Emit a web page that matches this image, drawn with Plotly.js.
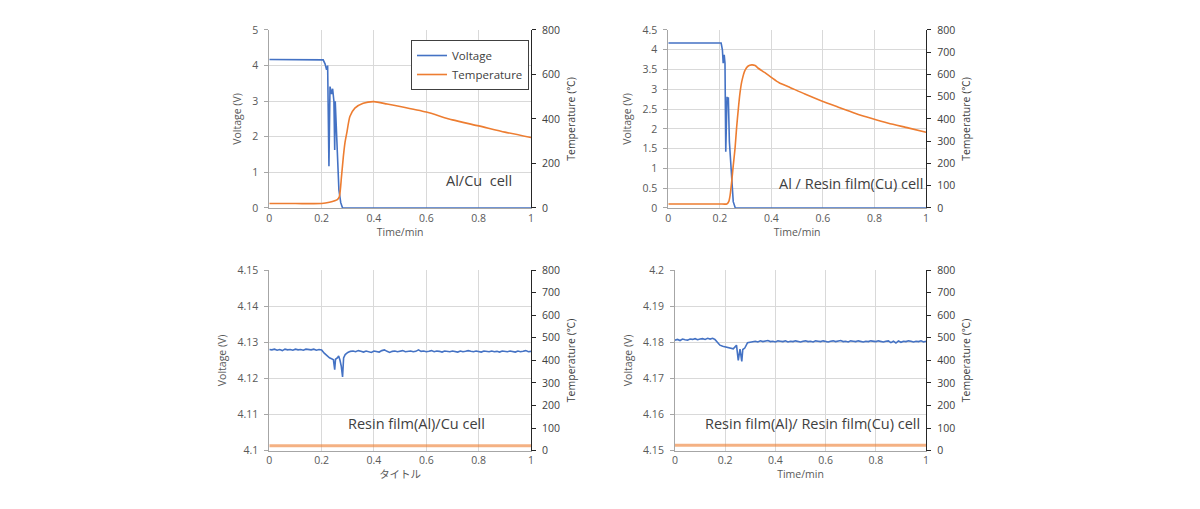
<!DOCTYPE html>
<html>
<head>
<meta charset="utf-8">
<script src="https://cdn.plot.ly/plotly-3.0.1.min.js"></script>
<style>
  body { margin: 0; background: #fff; }
  #chart { width: 1200px; height: 509px; }
</style>
</head>
<body>
<div id="chart"></div>
<script>
// ---- top left: Al/Cu cell
var tAlCuV = [0, 0.1, 0.2, 0.206, 0.213, 0.219, 0.223, 0.228, 0.232, 0.238, 0.242, 0.247, 0.25, 0.252, 0.256, 0.258, 0.261, 0.266, 0.273, 0.28, 0.3, 0.5, 1];
var vAlCu  = [4.17, 4.17, 4.17, 4.16, 4.05, 3.88, 4.0, 1.17, 3.41, 3.2, 3.35, 3.0, 1.63, 3.0, 2.29, 1.8, 1.27, 0.51, 0.15, 0, 0, 0, 0];
var tAlCuT = [0, 0.1, 0.2, 0.23, 0.26, 0.268, 0.276, 0.283, 0.289, 0.296, 0.308, 0.327, 0.359, 0.4, 0.45, 0.5, 0.6, 0.7, 0.8, 0.9, 1.0];
var tempAlCu = [20, 20, 20, 26, 38, 52, 142, 231, 292, 336, 411, 449, 471, 478, 467, 456, 431, 396, 369, 341, 317];

// ---- top right: Al / Resin film(Cu) cell
var tAlResV = [0, 0.1, 0.2, 0.205, 0.21, 0.213, 0.217, 0.22, 0.223, 0.226, 0.228, 0.23, 0.233, 0.237, 0.24, 0.246, 0.252, 0.26, 0.3, 1];
var vAlRes  = [4.17, 4.17, 4.17, 4.17, 4.0, 3.66, 3.87, 3.66, 1.42, 2.5, 2.81, 2.65, 2.8, 1.68, 1.36, 0.67, 0.16, 0, 0, 0];
var tAlResT = [0, 0.1, 0.2, 0.227, 0.235, 0.24, 0.246, 0.252, 0.259, 0.265, 0.272, 0.278, 0.285, 0.298, 0.31, 0.324, 0.337, 0.349, 0.375, 0.401, 0.43, 0.466, 0.53, 0.595, 0.66, 0.724, 0.79, 0.854, 0.93, 1.0];
var tempAlRes = [18, 18, 18, 18, 30, 58, 118, 190, 268, 360, 448, 515, 568, 620, 638, 643, 640, 628, 608, 586, 563, 545, 512, 481, 453, 426, 402, 381, 360, 340];

// ---- bottom left: Resin film(Al)/Cu cell
var tResCuV = [
  0, 0.01, 0.02, 0.03, 0.04, 0.05, 0.06, 0.07, 0.08, 0.09,
  0.10, 0.11, 0.12, 0.13, 0.14, 0.15, 0.16, 0.17, 0.18, 0.19,
  0.20, 0.21, 0.22, 0.23, 0.24, 0.245, 0.25, 0.253, 0.26, 0.265,
  0.27, 0.275, 0.28, 0.284, 0.29, 0.30, 0.31, 0.32, 0.33, 0.34,
  0.35, 0.36, 0.37, 0.38, 0.39, 0.40, 0.41, 0.42, 0.43, 0.44,
  0.45, 0.46, 0.47, 0.48, 0.49, 0.50, 0.51, 0.52, 0.53, 0.54,
  0.55, 0.56, 0.57, 0.58, 0.59, 0.60, 0.61, 0.62, 0.63, 0.64,
  0.65, 0.66, 0.67, 0.68, 0.69, 0.70, 0.71, 0.72, 0.73, 0.74,
  0.75, 0.76, 0.77, 0.78, 0.79, 0.80, 0.81, 0.82, 0.83, 0.84,
  0.85, 0.86, 0.87, 0.88, 0.89, 0.90, 0.91, 0.92, 0.93, 0.94,
  0.95, 0.96, 0.97, 0.98, 0.99, 1.00
];
var vResCu = [
  4.1280, 4.1279, 4.1281, 4.1278, 4.1280, 4.1277, 4.1281, 4.1279, 4.1280, 4.1278,
  4.1281, 4.1279, 4.1280, 4.1278, 4.1281, 4.1280, 4.1279, 4.1281, 4.1278, 4.1280,
  4.1279, 4.1270, 4.1264, 4.1257, 4.1254, 4.1252, 4.1224, 4.1253, 4.1257, 4.1262,
  4.1251, 4.1234, 4.1204, 4.1257, 4.1266, 4.1272, 4.1275, 4.1276, 4.1274, 4.1277,
  4.1275, 4.1273, 4.1276, 4.1275, 4.1272, 4.1276, 4.1274, 4.1273, 4.1277, 4.1279,
  4.1275, 4.1272, 4.1275, 4.1276, 4.1274, 4.1275, 4.1277, 4.1274, 4.1275, 4.1276,
  4.1274, 4.1275, 4.1279, 4.1275, 4.1276, 4.1274, 4.1275, 4.1277, 4.1274, 4.1276,
  4.1275, 4.1273, 4.1276, 4.1275, 4.1274, 4.1276, 4.1275, 4.1273, 4.1276, 4.1274,
  4.1275, 4.1277, 4.1275, 4.1274, 4.1276, 4.1275, 4.1273, 4.1276, 4.1275, 4.1274,
  4.1276, 4.1274, 4.1275, 4.1273, 4.1276, 4.1275, 4.1274, 4.1276, 4.1275, 4.1273,
  4.1276, 4.1274, 4.1275, 4.1277, 4.1274, 4.1275
];
var tResCuT = [0, 0.25, 0.5, 0.75, 1];
var tempResCu = [22, 22, 22, 22, 22];

// ---- bottom right: Resin film(Al)/ Resin film(Cu) cell
var tResResV = [
  0, 0.01, 0.02, 0.03, 0.04, 0.05, 0.06, 0.07, 0.08, 0.09,
  0.10, 0.11, 0.12, 0.13, 0.14, 0.15, 0.159, 0.17, 0.179, 0.19,
  0.206, 0.22, 0.232, 0.245, 0.252, 0.259, 0.266, 0.27, 0.278, 0.289,
  0.305, 0.32, 0.33, 0.34, 0.35, 0.36, 0.37, 0.38, 0.39, 0.40,
  0.41, 0.42, 0.43, 0.44, 0.45, 0.46, 0.47, 0.48, 0.49, 0.50,
  0.51, 0.52, 0.53, 0.54, 0.55, 0.56, 0.57, 0.58, 0.59, 0.60,
  0.61, 0.62, 0.63, 0.64, 0.65, 0.66, 0.67, 0.68, 0.69, 0.70,
  0.71, 0.72, 0.73, 0.74, 0.75, 0.76, 0.77, 0.78, 0.79, 0.80,
  0.81, 0.82, 0.83, 0.84, 0.85, 0.86, 0.87, 0.88, 0.89, 0.90,
  0.91, 0.92, 0.93, 0.94, 0.95, 0.96, 0.97, 0.98, 0.99, 1.00
];
var vResRes = [
  4.1806, 4.1808, 4.1805, 4.1809, 4.1807, 4.1806, 4.1809, 4.1808, 4.1810, 4.1807,
  4.1809, 4.1810, 4.1808, 4.1811, 4.1809, 4.1811, 4.1808, 4.1798, 4.1792, 4.1789,
  4.1786, 4.1784, 4.1782, 4.1792, 4.1750, 4.1781, 4.1747, 4.1780, 4.1784, 4.1799,
  4.1801, 4.1803, 4.1801, 4.1804, 4.1802, 4.1803, 4.1805, 4.1802, 4.1803, 4.1801,
  4.1804, 4.1803, 4.1802, 4.1804, 4.1801, 4.1803, 4.1802, 4.1804, 4.1803, 4.1801,
  4.1803, 4.1804, 4.1802, 4.1803, 4.1801, 4.1804, 4.1803, 4.1802, 4.1804, 4.1803,
  4.1801, 4.1803, 4.1804, 4.1802, 4.1803, 4.1805, 4.1802, 4.1803, 4.1801, 4.1804,
  4.1803, 4.1802, 4.1804, 4.1803, 4.1801, 4.1803, 4.1802, 4.1804, 4.1803, 4.1802,
  4.1804, 4.1803, 4.1801, 4.1803, 4.1804, 4.1799, 4.1803, 4.1798, 4.1804, 4.1800,
  4.1803, 4.1802, 4.1804, 4.1803, 4.1801, 4.1803, 4.1802, 4.1804, 4.1801, 4.1803
];
var tResResT = [0, 0.25, 0.5, 0.75, 1];
var tempResRes = [24, 24, 24, 24, 24];

var blue = '#4472C4';
var orange = '#ED7D31';
var orangeSoft = 'rgba(237,125,49,0.6)';
var font = 'Open Sans, Noto Sans CJK JP, sans-serif';
var grey = '#595959';

function tf() {
  return { family: font, size: 10.5, color: grey };
}

function xAx(domain, anchor, title) {
  return {
    domain: domain, anchor: anchor, range: [0, 1], dtick: 0.2,
    color: grey,
    showgrid: true, gridcolor: '#d9d9d9', zeroline: false,
    showline: true, linecolor: '#a6a6a6', linewidth: 1,
    tickfont: tf(), automargin: false,
    title: { text: title, font: tf(), standoff: 4 }
  };
}
function yLeft(domain, anchor, range, dtick) {
  return {
    domain: domain, anchor: anchor, range: range, dtick: dtick,
    color: grey,
    showgrid: true, gridcolor: '#d9d9d9', zeroline: false,
    showline: true, linecolor: '#a6a6a6', linewidth: 1,
    ticks: 'outside', ticklen: 4, tickcolor: '#a6a6a6',
    ticklabelstandoff: 4,
    tickfont: tf(), automargin: false,
    title: { text: 'Voltage (V)', font: tf(), standoff: 8 }
  };
}
// right-hand temperature axis, drawn over the voltage axis of the same panel
function yRight(overlay, anchor, dtick) {
  return {
    overlaying: overlay, anchor: anchor, side: 'right', range: [0, 800], dtick: dtick,
    color: '#404040',
    showgrid: false, zeroline: false,
    showline: true, linecolor: '#262626', linewidth: 1,
    ticks: 'outside', ticklen: 4, tickcolor: '#262626',
    ticklabelstandoff: 4,
    tickfont: { family: font, size: 10.5, color: '#404040' }, automargin: false,
    title: { text: 'Temperature (℃)', font: { family: font, size: 10.5, color: '#404040' }, standoff: 8 }
  };
}

var topDom = [0.5914, 0.9411];
var botDom = [0.1145, 0.4695];

var data = [
  { x: tAlCuV, y: vAlCu, xaxis: 'x', yaxis: 'y', type: 'scatter', mode: 'lines', name: 'Voltage',
    line: { color: blue, width: 1.6 } },
  { x: tAlCuT, y: tempAlCu, xaxis: 'x', yaxis: 'y2', type: 'scatter', mode: 'lines', name: 'Temperature',
    line: { color: orange, width: 1.6, shape: 'spline', smoothing: 0.6 } },

  { x: tAlResV, y: vAlRes, xaxis: 'x2', yaxis: 'y3', type: 'scatter', mode: 'lines', showlegend: false,
    line: { color: blue, width: 1.6 } },
  { x: tAlResT, y: tempAlRes, xaxis: 'x2', yaxis: 'y4', type: 'scatter', mode: 'lines', showlegend: false,
    line: { color: orange, width: 1.6, shape: 'spline', smoothing: 0.6 } },

  { x: tResCuV, y: vResCu, xaxis: 'x3', yaxis: 'y5', type: 'scatter', mode: 'lines', showlegend: false,
    line: { color: blue, width: 1.6 } },
  { x: tResCuT, y: tempResCu, xaxis: 'x3', yaxis: 'y6', type: 'scatter', mode: 'lines', showlegend: false,
    line: { color: orangeSoft, width: 3 } },

  { x: tResResV, y: vResRes, xaxis: 'x4', yaxis: 'y7', type: 'scatter', mode: 'lines', showlegend: false,
    line: { color: blue, width: 1.6 } },
  { x: tResResT, y: tempResRes, xaxis: 'x4', yaxis: 'y8', type: 'scatter', mode: 'lines', showlegend: false,
    line: { color: orangeSoft, width: 3 } }
];

var noteFont = { family: font, size: 14.5, color: '#404040' };

var layout = {
  width: 1200, height: 509,
  margin: { l: 0, r: 0, t: 0, b: 0 },
  paper_bgcolor: '#ffffff', plot_bgcolor: '#ffffff',
  font: { family: font, color: grey },
  showlegend: true,
  legend: {
    x: 0.3425, y: 0.9214, xanchor: 'left', yanchor: 'top',
    bgcolor: '#ffffff', bordercolor: '#404040', borderwidth: 1,
    font: { family: font, size: 11.5, color: '#404040' },
    tracegroupgap: 0
  },
  xaxis: xAx([0.2244, 0.4425], 'y', 'Time/min'),
  yaxis: yLeft(topDom, 'x', [0, 5], 1),
  yaxis2: yRight('y', 'x', 200),
  xaxis2: xAx([0.5569, 0.7717], 'y3', 'Time/min'),
  yaxis3: yLeft(topDom, 'x2', [0, 4.5], 0.5),
  yaxis4: yRight('y3', 'x2', 100),
  xaxis3: xAx([0.2244, 0.4425], 'y5', 'タイトル'),
  yaxis5: yLeft(botDom, 'x3', [4.1, 4.15], 0.01),
  yaxis6: yRight('y5', 'x3', 100),
  xaxis4: xAx([0.5625, 0.7717], 'y7', 'Time/min'),
  yaxis7: yLeft(botDom, 'x4', [4.15, 4.2], 0.01),
  yaxis8: yRight('y7', 'x4', 100),
  annotations: [
    { text: 'Al/Cu  cell', xref: 'x', yref: 'y', x: 0.80, y: 0.77, showarrow: false, font: noteFont },
    { text: 'Al / Resin film(Cu) cell', xref: 'x2', yref: 'y3', x: 0.709, y: 0.61, showarrow: false, font: noteFont },
    { text: 'Resin film(Al)/Cu cell', xref: 'x3', yref: 'y5', x: 0.562, y: 4.1076, showarrow: false, font: noteFont },
    { text: 'Resin film(Al)/ Resin film(Cu) cell', xref: 'x4', yref: 'y7', x: 0.547, y: 4.1576, showarrow: false, font: noteFont }
  ]
};

Plotly.newPlot('chart', data, layout, { displayModeBar: false, staticPlot: true });
</script>
</body>
</html>
